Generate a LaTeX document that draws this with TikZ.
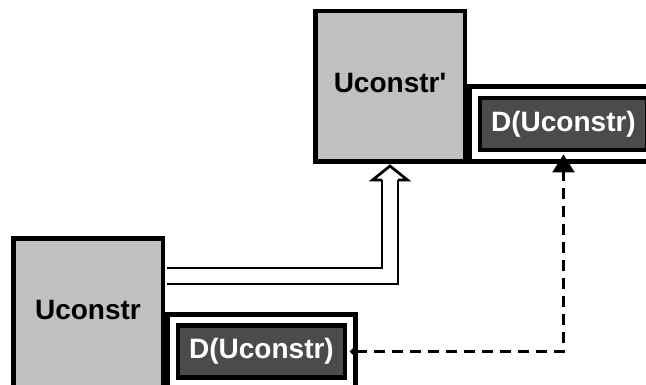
\documentclass[tikz,border=0pt]{standalone}
\usepackage{fontspec}
\setmainfont{Liberation Sans}
\usetikzlibrary{arrows.meta,calc}

\definecolor{clsgray}{HTML}{C0C0C0}
\definecolor{partgray}{HTML}{4B4B4B}

\tikzset{
  big/.style={font=\bfseries\fontsize{28}{33}\selectfont},
  cls/.style={draw,fill=clsgray,line width=4.5pt,minimum width=149.5pt,minimum height=150.5pt,text depth=8pt,big},
  slot/.style={draw,fill=white,line width=5pt,minimum width=188pt,minimum height=75pt,anchor=south west},
  part/.style={draw,fill=partgray,text=white,line width=4.5pt,minimum width=167pt,minimum height=52pt,big},
  realize/.style={double,double distance=13.3pt,line width=2.7pt},
  realizehead/.style={line width=2.7pt,fill=white},
  dep/.style={dash pattern=on 11pt off 7pt,line width=2.5pt,{Diamond[length=8pt,width=8pt]}-{Triangle[length=18pt,width=22pt]}},
}

\begin{document}
\begin{tikzpicture}[x=1pt,y=-1pt]
  \clip (0,0) rectangle (646,385);

  % classes
  \node[cls] (uconstr) at (88,314)  {Uconstr};
  \node[cls] (uprime)  at (390,86.5) {Uconstr\textquotesingle};

  % compartments with their parts
  \node[slot] (slotlow) at (uconstr.south east) {};
  \node[slot] (slottop) at (uprime.south east)  {};
  \node[part] (dlow) at (slotlow) {D(Uconstr)};
  \node[part] (dtop) at (slottop) {D(Uconstr)};

  % realization
  \draw[realize] ([shift={(2.25pt,38pt)}]uconstr.east) -| ([yshift=-16pt]uprime.south);
  \draw[realizehead] ($(uprime.south)+(-8,16)$) -- ($(uprime.south)+(-17.5,16)$)
     -- ($(uprime.south)+(0,2)$) -- ($(uprime.south)+(17.5,16)$) -- ($(uprime.south)+(8,16)$);

  % dependency between the parts
  \draw[dep] ([xshift=2.25pt]dlow.east) -| ([yshift=-2.25pt]dtop.south);
\end{tikzpicture}
\end{document}
